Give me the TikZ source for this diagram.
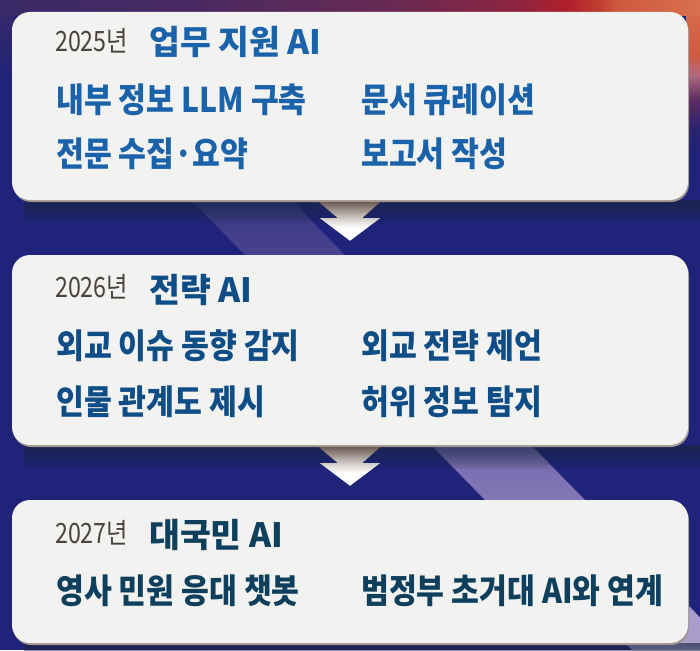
\documentclass[tikz,border=0pt]{standalone}
\usepackage{fontspec}
\newfontfamily\krtitle{Noto Sans CJK KR}[FakeStretch=1.0]
\newfontfamily\kritem{Noto Sans CJK KR}[FakeStretch=0.89]
\newfontfamily\kryear{Noto Sans CJK KR}[FakeStretch=0.83]
\usetikzlibrary{calc,shadows,backgrounds}

\definecolor{bgnavy}{HTML}{1F2379}
\definecolor{panelfill}{HTML}{F2F2F0}
\definecolor{panelrim}{HTML}{A0948E}
\definecolor{shadowslate}{HTML}{1B2B42}
\definecolor{yeargray}{HTML}{4A423E}
\definecolor{blueA}{HTML}{1A63AB}
\definecolor{blueB}{HTML}{0F4D87}
\definecolor{blueC}{HTML}{0E3F5C}
\definecolor{arrowtop}{HTML}{6E5E56}
\definecolor{arrowmid}{HTML}{D2CDC9}
\definecolor{purpleA}{HTML}{3A2A68}
\definecolor{purpleB}{HTML}{4A2A62}
\definecolor{purpleC}{HTML}{6A2A52}
\definecolor{wineA}{HTML}{8E2440}
\definecolor{redA}{HTML}{B3202C}
\definecolor{redB}{HTML}{C04030}
\definecolor{orangeA}{HTML}{D05A40}
\definecolor{orangeB}{HTML}{D8704E}
\definecolor{pinkA}{HTML}{B06A80}
\definecolor{plumA}{HTML}{5A2C60}
\definecolor{plumB}{HTML}{2A2470}
\definecolor{stripeA}{HTML}{433E8A}
\definecolor{stripeB}{HTML}{7A6FB0}
\definecolor{stripeC}{HTML}{A99DCC}

% shadings: the middle 25bp--75bp is fitted to the path
\pgfdeclarehorizontalshading{topband}{100bp}{color(0bp)=(purpleA); color(25bp)=(purpleA);
  color(39bp)=(purpleB); color(53.6bp)=(purpleC); color(62bp)=(wineA); color(65.7bp)=(redA);
  color(67.9bp)=(redB); color(69.3bp)=(orangeA); color(75bp)=(orangeB); color(100bp)=(orangeB)}
\pgfdeclareverticalshading{rightedge}{100bp}{color(0bp)=(bgnavy); color(25bp)=(bgnavy);
  color(31.7bp)=(plumB); color(41.7bp)=(plumA); color(50bp)=(pinkA); color(56.7bp)=(orangeA);
  color(75bp)=(orangeB); color(100bp)=(orangeB)}
\pgfdeclareverticalshading{stripefade}{100bp}{color(0bp)=(stripeC); color(25bp)=(stripeC);
  color(27.3bp)=(stripeC); color(38.8bp)=(stripeB); color(57.3bp)=(stripeA); color(63.5bp)=(bgnavy);
  color(100bp)=(bgnavy)}
\pgfdeclareverticalshading{arrowfade}{100bp}{color(0bp)=(white); color(25bp)=(white);
  color(42bp)=(white); color(54bp)=(arrowmid); color(75bp)=(arrowtop); color(100bp)=(arrowtop)}

\begin{document}
\begin{tikzpicture}[x=1pt,y=-1pt,
    panel/.style={rectangle, rounded corners=18pt, fill=panelfill, inner sep=0pt, minimum width=676pt,
      drop shadow={shadow xshift=1pt, shadow yshift=-2pt, fill=panelrim, opacity=1}},
    yeartxt/.style={anchor=base west, inner sep=0pt, text=yeargray, font=\kryear\fontsize{28pt}{28pt}\selectfont},
    headtxt/.style={anchor=base west, inner sep=0pt, font=\krtitle\bfseries\fontsize{33.5pt}{33.5pt}\selectfont},
    itemtxt/.style={anchor=base west, inner sep=0pt, font=\kritem\bfseries\fontsize{34pt}{34pt}\selectfont}]
  \useasboundingbox (0,0) rectangle (700,650);

  % panels
  \node[panel, minimum height=188pt] (b25) at (350,106) {};
  \node[panel, minimum height=190pt] (b26) at (350,350) {};
  \node[panel, minimum height=143pt] (b27) at (350,571.5) {};

  % 2025
  \node[yeartxt] (y25) at (55,52) {2025년};
  \node[headtxt, text=blueA] (h25) at (149,55) {업무 지원 AI};
  \node[itemtxt, text=blueA] (i25a) at (56,112) {내부 정보 LLM 구축};
  \node[itemtxt, text=blueA] (i25b) at (361,112) {문서 큐레이션};
  \node[itemtxt, text=blueA] (i25c) at (56,166) {전문 수집·요약};
  \node[itemtxt, text=blueA] (i25d) at (361,166) {보고서 작성};

  % 2026
  \node[yeartxt] (y26) at (55,297) {2026년};
  \node[headtxt, text=blueB] (h26) at (149,302) {전략 AI};
  \node[itemtxt, text=blueB] (i26a) at (56,358) {외교 이슈 동향 감지};
  \node[itemtxt, text=blueB] (i26b) at (361,358) {외교 전략 제언};
  \node[itemtxt, text=blueB] (i26c) at (56,414) {인물 관계도 제시};
  \node[itemtxt, text=blueB] (i26d) at (361,414) {허위 정보 탐지};

  % 2027
  \node[yeartxt] (y27) at (55,543) {2027년};
  \node[headtxt, text=blueC] (h27) at (149,547) {대국민 AI};
  \node[itemtxt, text=blueC] (i27a) at (56,603) {영사 민원 응대 챗봇};
  \node[itemtxt, text=blueC] (i27b) at (361,603) {범정부 초거대 AI와 연계};

  % arrows between panels
  \foreach \a/\b in {b25/b26, b26/b27}
    \shade[shading=arrowfade] ($(\a.south)+(-31,2)$) -- ($(\a.south)+(30,2)$) -- ($(\a.south)+(12,18)$)
      -- ($(\a.south)+(30,18)$) -- ($(\b.north)+(0,-14)$) -- ($(\a.south)+(-30,18)$)
      -- ($(\a.south)+(-12,18)$) -- cycle;

  \begin{pgfonlayer}{background}
    \fill[bgnavy] (0,0) rectangle (700,650);
    \shade[shading=stripefade] (-5,0) -- (95,0) -- (732,650) -- (632,650) -- cycle;
    \shade[top color=purpleA, bottom color=bgnavy] (0,0) rectangle (14,80);
    \shade[shading=rightedge] (686,0) rectangle (700,150);
    \shade[shading=topband] (0,0) rectangle (700,16);
    % dark shade under each panel
    \foreach \b in {b25,b26,b27}
      \foreach \k in {1,...,12}
        \fill[shadowslate, opacity=0.08] ($(\b.south west)+(12,0)$) rectangle ($(\b.south east)+(12,2*\k)$);
  \end{pgfonlayer}
\end{tikzpicture}
\end{document}
